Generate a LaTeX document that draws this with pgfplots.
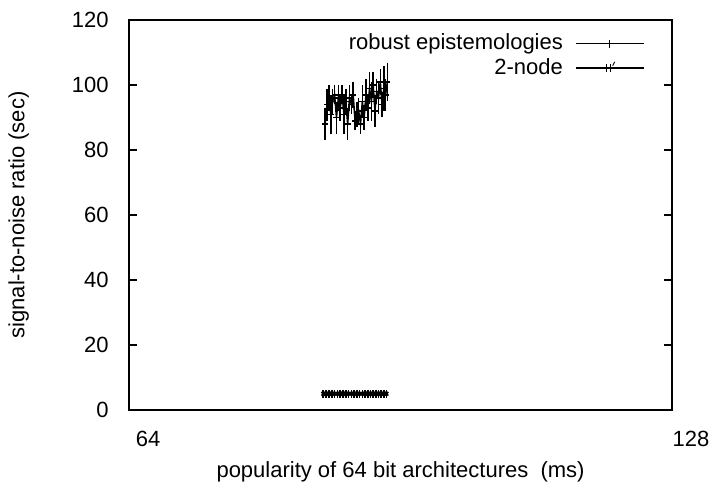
\documentclass[border=0pt]{standalone}
\usepackage{pgfplots}
\pgfplotsset{compat=1.18}
\usepackage{fontspec}
\setmainfont{Liberation Sans}
\begin{document}
\fontsize{22pt}{26pt}\selectfont
\begin{tikzpicture}
\path[use as bounding box] (-129pt,-81pt) rectangle (585pt,410pt);
\begin{axis}[
  scale only axis,
  width=543pt, height=390pt,
  xmode=log, log basis x=2,
  xmin=64, xmax=128, ymin=0, ymax=120,
  xtick={64,128}, xticklabels={64,128},
  ytick={0,20,40,60,80,100,120},
  /pgf/number format/assume math mode=true,
  tick align=inside,
  major tick length=8pt,
  minor tick num=0,
  axis line style={line width=1.5pt},
  every tick/.style={line width=1.5pt, black},
  tick label style={font=\fontsize{22pt}{26pt}\selectfont},
  label style={font=\fontsize{22pt}{26pt}\selectfont},
  xticklabel style={xshift=19pt, yshift=-14pt},
  yticklabel style={xshift=-13pt},
  xlabel={popularity of 64 bit architectures\ \ (ms)},
  ylabel={signal-to-noise ratio (sec)},
  xlabel style={yshift=0pt},
  ylabel style={yshift=28pt},
  legend style={draw=none, fill=none, at={(0.955,0.975)}, anchor=north east,
    font=\fontsize{22pt}{26pt}\selectfont, row sep=1pt, column sep=10pt},
  legend cell align=right,
  legend plot pos=right,
]
\addplot[black, line width=1.5pt, mark=+, mark size=3pt,
  legend image code/.code={
    \draw[black, line width=1.5pt] (0pt,0pt)--(68pt,0pt);
    \draw[black, line width=1.5pt] (34pt,-4pt)--(34pt,4pt);},
  error bars/.cd, y dir=both, y explicit,
  error bar style={line width=1.5pt},
  error mark options={mark size=3pt, line width=1.5pt}]
  table[x=x, y=y, y error=e] {
x y e
82.2 88 4
82.4 94 4
82.6 96 3
82.8 91 5
83.0 95 3
83.2 97 2
83.4 90 4
83.6 96 3
83.8 93 3
84.0 97 2
84.2 91 5
84.4 95 3
84.6 88 4
84.8 96 3
85.0 94 2
85.2 97 3
85.4 89 2
85.6 91 3
85.8 92 3
86.0 88 2
86.2 95 4
86.4 90 3
86.6 97 4
86.8 93 3
87.0 99 4
87.2 95 5
87.4 100 3
87.6 92 4
87.8 98 3
88.0 96 4
88.2 101 3
88.4 94 3
88.6 99 6
88.8 97 4
89.0 101 5
};
\addlegendentry{robust epistemologies}
\addplot[black, line width=1.5pt, mark=x, mark size=2.5pt,
  legend image code/.code={
    \draw[black, line width=1.5pt] (0pt,0pt)--(68pt,0pt);
    \draw[black, line width=1.5pt] (31pt,-4pt)--(31pt,4pt);
    \draw[black, line width=1.5pt] (35pt,-4pt)--(35pt,4pt);
    \draw[black, line width=0.8pt] (37pt,2pt)--(39pt,6pt);},
  error bars/.cd, y dir=both, y explicit,
  error bar style={line width=1.5pt},
  error mark options={mark size=2pt, line width=1.5pt}]
  table[x=x, y=y, y error=e] {
x y e
82.0 5 0.6
82.3 5 0.6
82.6 5 0.6
82.9 5 0.6
83.2 5 0.6
83.5 5 0.6
83.8 5 0.6
84.1 5 0.6
84.4 5 0.6
84.7 5 0.6
85.0 5 0.6
85.3 5 0.6
85.6 5 0.6
85.9 5 0.6
86.2 5 0.6
86.5 5 0.6
86.8 5 0.6
87.1 5 0.6
87.4 5 0.6
87.7 5 0.6
88.0 5 0.6
88.3 5 0.6
88.6 5 0.6
88.9 5 0.6
};
\addlegendentry{2-node}
\end{axis}
\end{tikzpicture}
\end{document}
